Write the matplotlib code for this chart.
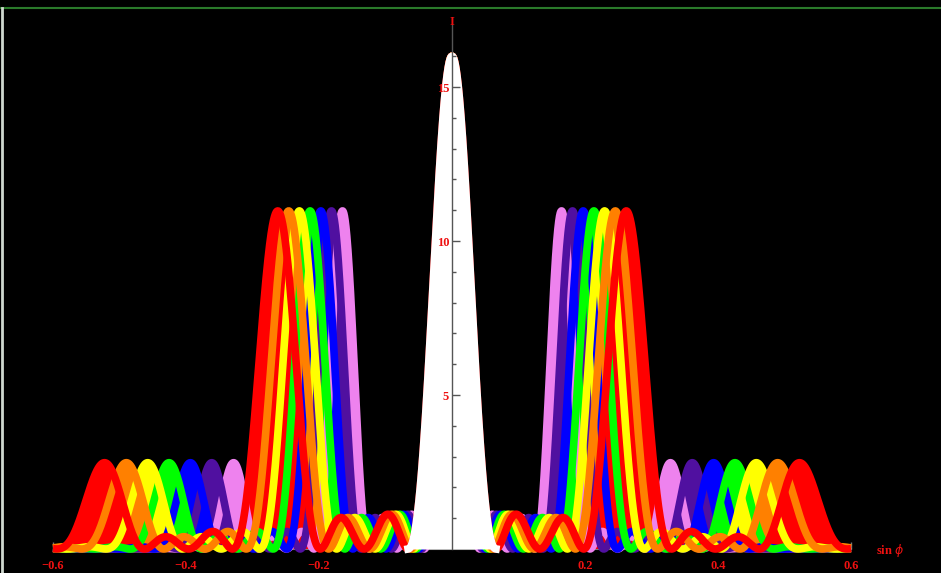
import numpy as np
import matplotlib
matplotlib.use("Agg")
import matplotlib.pyplot as plt
from matplotlib.ticker import FixedLocator

# ---- data / parameters ----
color_names = ["red", "orange", "yellow", "green", "blue", "indigo", "violet"]
colors = ["#ff0000", "#ff8000", "#ffff00", "#00ff00", "#0000ff", "#5010a0", "#ee82ee"]
wavelengths_nm = [700, 656, 613, 570, 527, 484, 440]   # lambda per colour
white_wavelength_nm = 700                               # central (zero-order) white lobe
grating_spacing_nm = 2650                               # d
slit_width_ratio = 1.0 / 3.0                            # a / d
n_slits = 4                                             # N  (central max = N^2 = 16)
x_range = (-0.6, 0.6)
x_ticks = [-0.6, -0.4, -0.2, 0.2, 0.4, 0.6]
x_tick_labels = ["\u22120.6", "\u22120.4", "\u22120.2", "0.2", "0.4", "0.6"]
x_minor_ticks = [-0.5, -0.3, -0.1, 0.1, 0.3, 0.5]
y_ticks = [5, 10, 15]
y_tick_labels = ["5", "10", "15"]
y_minor_ticks = [1, 2, 3, 4, 6, 7, 8, 9, 11, 12, 13, 14, 16]


def intensity(s, lam):
    beta = np.pi * grating_spacing_nm * s / lam
    alpha = np.pi * slit_width_ratio * grating_spacing_nm * s / lam
    sb = np.sin(beta)
    with np.errstate(divide="ignore", invalid="ignore"):
        grat = np.where(np.abs(sb) < 1e-9, float(n_slits),
                        np.sin(n_slits * beta) / sb)
        env = np.where(np.abs(alpha) < 1e-9, 1.0, np.sin(alpha) / alpha)
    return grat ** 2 * env ** 2


W, H = 941, 573
fig = plt.figure(figsize=(W / 100, H / 100), dpi=100, facecolor="black")
ax = fig.add_axes([0, 0, 1, 1], facecolor="black")

# pixel mapping: x=0 at px 452, 665 px per unit; y=0 at px 549, 30.8 px per unit
x0px, xs = 452.0, 665.0
y0px, ys = 549.0, 30.8
ax.set_xlim(-x0px / xs, (W - x0px) / xs)
ax.set_ylim(-(H - y0px) / ys, y0px / ys)

s = np.linspace(x_range[0], x_range[1], 6001)
lw = 5.5
curves = [intensity(s, lam) for lam in wavelengths_nm]
order = list(zip(curves, colors))[::-1]      # violet first, red last (on top)
for I, c in order:
    ax.fill_between(s, 0, I, color=c, lw=0, zorder=2)
for I, c in order:
    ax.plot(s, I, color=c, lw=lw, solid_capstyle="butt", zorder=3)

# central white lobe
half = white_wavelength_nm / (n_slits * grating_spacing_nm)
sw = np.linspace(-half, half, 801)
Iw = intensity(sw, white_wavelength_nm)
ax.fill_between(sw, 0, Iw, color="white", lw=0, zorder=4)
ax.plot(sw, Iw, color="white", lw=lw, zorder=4)

# axes
for side in ["top", "right"]:
    ax.spines[side].set_visible(False)
ax.spines["left"].set_position(("data", 0))
ax.spines["bottom"].set_position(("data", 0))
ax.spines["left"].set_bounds(0, 17.0)
ax.spines["bottom"].set_bounds(x_range[0], x_range[1])
ax.spines["left"].set_color("#555555")
ax.spines["bottom"].set_color("#777777")
ax.spines["left"].set_zorder(5)
ax.spines["left"].set_linewidth(1.0)

ax.yaxis.set_major_locator(FixedLocator(y_ticks))
ax.yaxis.set_minor_locator(FixedLocator(y_minor_ticks))
ax.set_yticklabels(y_tick_labels)
ax.xaxis.set_major_locator(FixedLocator(x_ticks))
ax.xaxis.set_minor_locator(FixedLocator(x_minor_ticks))
ax.set_xticklabels(x_tick_labels)

ax.tick_params(axis="y", which="major", direction="in", length=6, width=1,
               color="#555555", labelcolor="#ee1111", labelsize=9, pad=2)
ax.tick_params(axis="y", which="minor", direction="in", length=3, width=1,
               color="#555555")
ax.tick_params(axis="x", which="major", direction="in", length=5, width=1,
               color="#777777", labelcolor="#ee1111", labelsize=9, pad=8)
ax.tick_params(axis="x", which="minor", direction="in", length=2.5,
               color="#777777")
for t in ax.get_xticklabels() + ax.get_yticklabels():
    t.set_fontfamily("Liberation Serif")
    t.set_fontweight("bold")
ax.yaxis.set_zorder(6)
ax.xaxis.set_zorder(1.5)

ax.text(0, 16.9, "I", color="#ee1111", fontsize=9, family="Liberation Serif",
        fontweight="bold", ha="center", va="bottom", zorder=6)
ax.text(0.637, -0.05, "sin $\\phi$", color="#ee1111", fontsize=9,
        family="Liberation Serif", fontweight="bold", ha="left", va="center")

# screenshot border lines
fig.add_artist(plt.Line2D([0, 1], [1 - 8 / H, 1 - 8 / H], color="#2a7a2a", lw=1.5))
fig.add_artist(plt.Line2D([2 / W, 2 / W], [0, 1 - 8 / H], color="#cfd8cf", lw=2))

fig.savefig("out.png", dpi=100, facecolor="black")
